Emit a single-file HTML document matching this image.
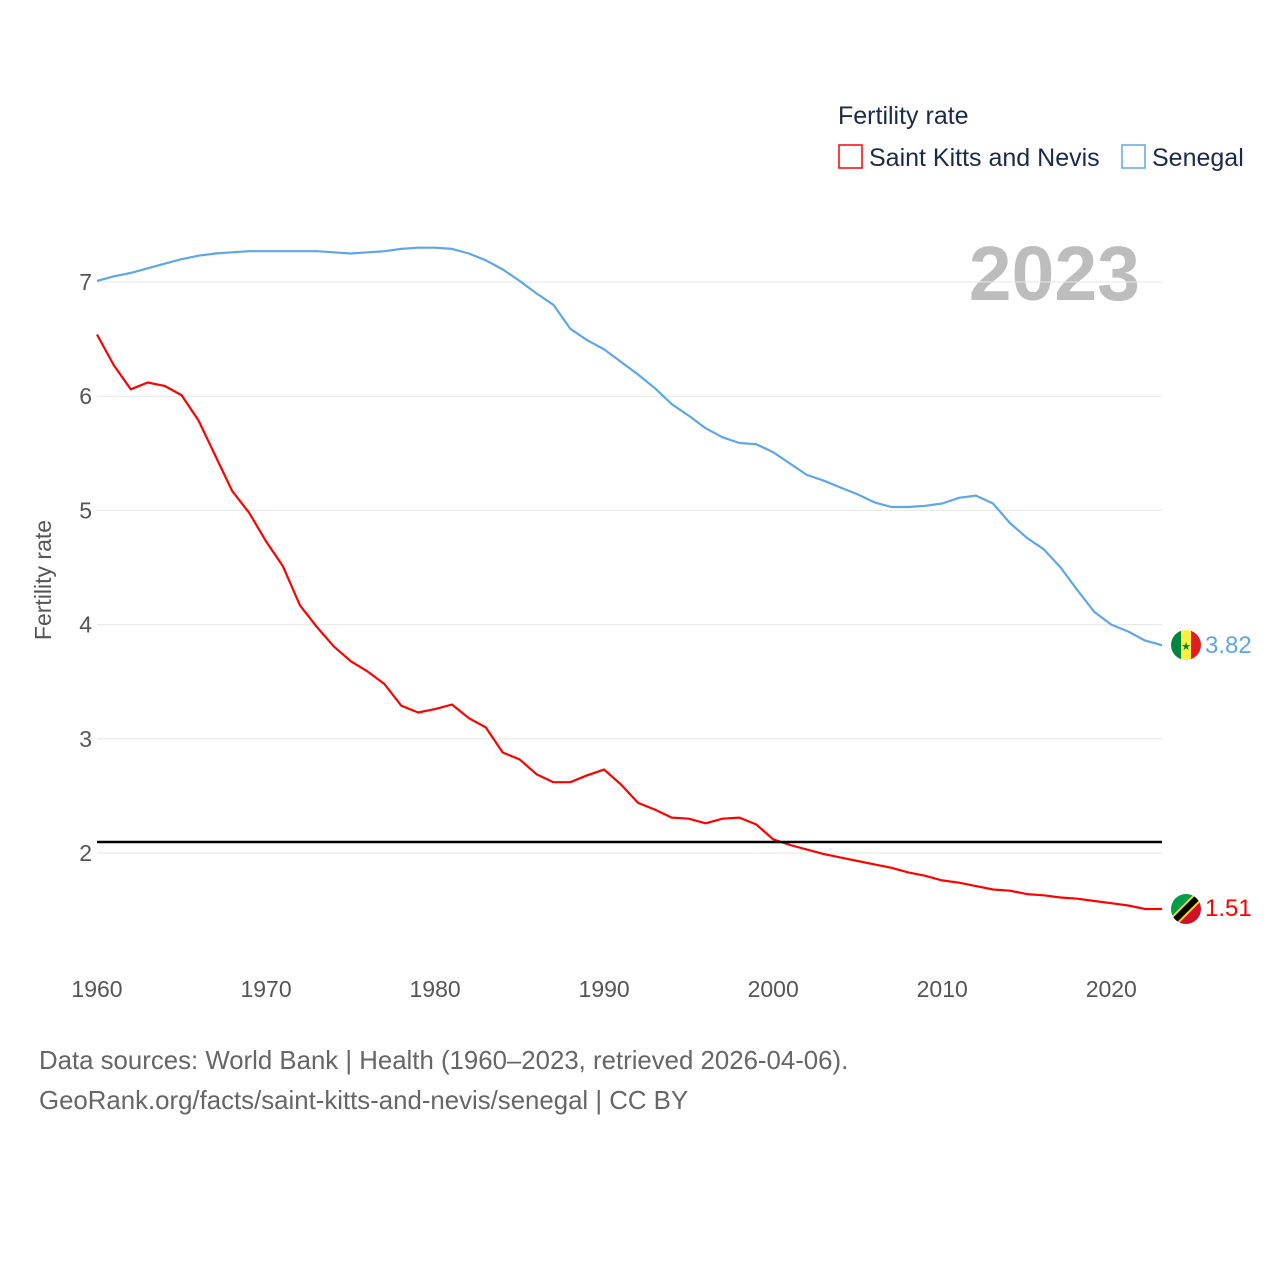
<!DOCTYPE html>
<html><head><meta charset="utf-8"><style>
body{margin:0;background:#fff;font-family:"Liberation Sans",sans-serif}
svg text{font-family:"Liberation Sans",sans-serif}
</style></head><body>
<svg width="1280" height="1280" viewBox="0 0 1280 1280" id="chart">
<text x="838" y="124" font-size="25" fill="#1a2a4a">Fertility rate</text>
<rect x="839" y="145" width="23" height="23" fill="none" stroke="#ff0000" stroke-width="1.5"/>
<text x="869" y="166" font-size="25" fill="#1a2a4a">Saint Kitts and Nevis</text>
<rect x="1122" y="145" width="23" height="23" fill="none" stroke="#5ea6ea" stroke-width="1.5"/>
<text x="1152" y="166" font-size="25" fill="#1a2a4a">Senegal</text>
<text x="1140" y="300" font-size="77" font-weight="bold" fill="#bdbdbd" text-anchor="end">2023</text>
<text transform="translate(51,580) rotate(-90)" font-size="23" fill="#555" text-anchor="middle">Fertility rate</text>
<g id="grid"></g><g id="lines"></g>
<line x1="97" x2="1162" y1="842" y2="842" stroke="#000" stroke-width="2.5"/>
<g>
<clipPath id="c1"><circle cx="1186" cy="645" r="15"/></clipPath>
<g clip-path="url(#c1)"><rect x="1171" y="630" width="10" height="30" fill="#00853f"/><rect x="1181" y="630" width="10" height="30" fill="#fdef42"/><rect x="1191" y="630" width="10" height="30" fill="#e31b23"/></g>
<text x="1186" y="650" font-size="11" fill="#00853f" text-anchor="middle">★</text></g>
<g>
<clipPath id="c2"><circle cx="1186" cy="909" r="15"/></clipPath>
<g clip-path="url(#c2)"><polygon points="1171,894 1201,894 1171,924" fill="#009e49"/><polygon points="1201,894 1201,924 1171,924" fill="#ce1126"/><line x1="1171" y1="924" x2="1201" y2="894" stroke="#fcd116" stroke-width="10"/><line x1="1171" y1="924" x2="1201" y2="894" stroke="#000" stroke-width="6"/></g></g>
<text id="lab-sen" x="1205" y="652" font-size="24" fill="#5ea6ea"></text>
<text id="lab-skn" x="1205" y="916" font-size="24" fill="#ff0000"></text>
<text x="39" y="1069" font-size="25.8" fill="#666">Data sources: World Bank | Health (1960–2023, retrieved 2026-04-06).</text>
<text x="39" y="1109" font-size="25.8" fill="#666">GeoRank.org/facts/saint-kitts-and-nevis/senegal | CC BY</text>
</svg>
<script>
const years=[];for(let y=1960;y<=2023;y++)years.push(y);
const yTicks=[2,3,4,5,6,7];
const xTicks=[1960,1970,1980,1990,2000,2010,2020];
const senegal=[7.01,7.05,7.08,7.12,7.16,7.20,7.23,7.25,7.26,7.27,7.27,7.27,7.27,7.27,7.26,7.25,7.26,7.27,7.29,7.30,7.30,7.29,7.25,7.19,7.11,7.01,6.90,6.80,6.59,6.49,6.41,6.30,6.19,6.07,5.93,5.83,5.72,5.64,5.59,5.58,5.51,5.41,5.31,5.26,5.20,5.14,5.07,5.03,5.03,5.04,5.06,5.11,5.13,5.06,4.89,4.76,4.66,4.50,4.30,4.11,4.00,3.94,3.86,3.82];
const skn=[6.54,6.27,6.06,6.12,6.09,6.01,5.79,5.48,5.17,4.98,4.73,4.51,4.17,3.98,3.81,3.68,3.59,3.48,3.29,3.23,3.26,3.30,3.18,3.10,2.88,2.82,2.69,2.62,2.62,2.68,2.73,2.60,2.44,2.38,2.31,2.30,2.26,2.30,2.31,2.25,2.12,2.07,2.03,1.99,1.96,1.93,1.90,1.87,1.83,1.80,1.76,1.74,1.71,1.68,1.67,1.64,1.63,1.61,1.60,1.58,1.56,1.54,1.51,1.51];
const X=y=>97+(y-1960)*(1162-97)/63;
const Y=v=>853-(v-2)*(853-282)/5;
const NS="http://www.w3.org/2000/svg";
const grid=document.getElementById('grid');
yTicks.forEach(t=>{
 const l=document.createElementNS(NS,'line');
 l.setAttribute('x1',97);l.setAttribute('x2',1162);l.setAttribute('y1',Y(t));l.setAttribute('y2',Y(t));
 l.setAttribute('stroke','#e6e6e6');l.setAttribute('stroke-width','1');
 
 
 grid.appendChild(l);
 const tx=document.createElementNS(NS,'text');
 tx.setAttribute('x',92);tx.setAttribute('y',Y(t)+8);tx.setAttribute('text-anchor','end');
 tx.setAttribute('font-size','23');tx.setAttribute('fill','#555');tx.textContent=t;
 
 
 grid.appendChild(tx);
});
xTicks.forEach(t=>{
 const tx=document.createElementNS(NS,'text');
 tx.setAttribute('x',X(t));tx.setAttribute('y',997);tx.setAttribute('text-anchor','middle');
 tx.setAttribute('font-size','23');tx.setAttribute('fill','#555');tx.textContent=t;
 
 
 grid.appendChild(tx);
});
function line(data,color,name){
 const p=document.createElementNS(NS,'polyline');
 p.setAttribute('points',data.map((v,i)=>X(years[i]).toFixed(1)+','+Y(v).toFixed(1)).join(' '));
 p.setAttribute('fill','none');p.setAttribute('stroke',color);p.setAttribute('stroke-width','2.2');
 p.setAttribute('stroke-linejoin','round');
 
 
 document.getElementById('lines').appendChild(p);
}
line(senegal,'#5ea6ea','series-senegal');
line(skn,'#ff0000','series-skn');
const ls=document.getElementById('lab-sen'),lk=document.getElementById('lab-skn');
ls.textContent=senegal[senegal.length-1].toFixed(2);ls.setAttribute('y',Y(senegal[senegal.length-1])+8);
lk.textContent=skn[skn.length-1].toFixed(2);lk.setAttribute('y',Y(skn[skn.length-1])+7);
</script>
</body></html>
